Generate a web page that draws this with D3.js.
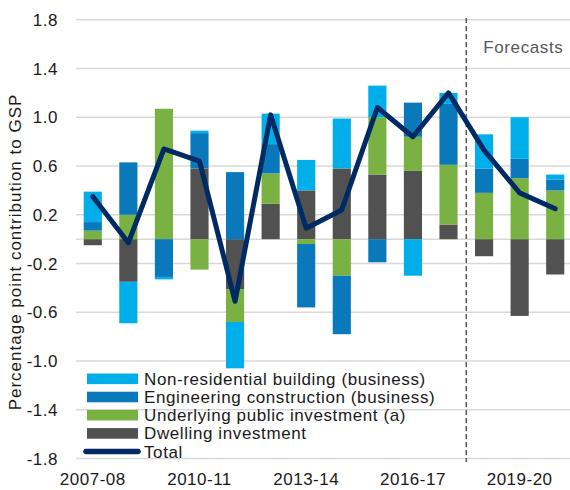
<!DOCTYPE html>
<html>
<head>
<meta charset="utf-8">
<script src="https://cdn.jsdelivr.net/npm/d3@7/dist/d3.min.js"></script>
<style>
  html, body { margin: 0; padding: 0; background: #fff; }
  svg { display: block; font-family: "Liberation Sans", Arial, sans-serif; }
  .grid { stroke: #d9d9d9; stroke-width: 1.5; }
  .tick-label { font-size: 17px; fill: #1a1a1a; letter-spacing: 0.5px; }
  .axis-title { font-size: 17px; fill: #1a1a1a; letter-spacing: 1px; }
  .legend-label { font-size: 17px; fill: #1a1a1a; letter-spacing: 0.6px; }
</style>
</head>
<body>
<div id="chart"></div>
<script>
// Contribution to GSP growth by component (percentage points), 2007-08 to 2020-21.
var years = ["2007-08", "2008-09", "2009-10", "2010-11", "2011-12", "2012-13", "2013-14",
             "2014-15", "2015-16", "2016-17", "2017-18", "2018-19", "2019-20", "2020-21"];
var xTickLabels = ["2007-08", "2010-11", "2013-14", "2016-17", "2019-20"];
var yTicks = [-1.8, -1.4, -1.0, -0.6, -0.2, 0.2, 0.6, 1.0, 1.4, 1.8];

var dwelling    = [-0.05, -0.35, 0.00, 0.58, -0.41, 0.29, 0.40, 0.58, 0.53, 0.56, 0.12, -0.14, -0.63, -0.29];
var publicInv   = [0.07, 0.20, 1.07, -0.25, -0.27, 0.25, -0.04, -0.30, 0.47, 0.28, 0.49, 0.38, 0.50, 0.40];
var engineering = [0.07, 0.43, -0.31, 0.29, 0.55, 0.24, -0.52, -0.48, -0.19, 0.28, 0.50, 0.20, 0.16, 0.09];
var nonRes      = [0.25, -0.34, -0.02, 0.02, -0.38, 0.25, 0.25, 0.41, 0.26, -0.30, 0.09, 0.28, 0.34, 0.04];
var total       = [0.35, -0.03, 0.74, 0.64, -0.51, 1.02, 0.09, 0.24, 1.08, 0.84, 1.20, 0.73, 0.38, 0.25];

var forecastFrom = "2018-19";

var W = 570, H = 490;
var svg = d3.select("#chart").append("svg").attr("width", W).attr("height", H);

// stacking order from zero outwards: dwelling, public, engineering, non-res
var series = [
  { key: "dwelling", name: "Dwelling investment", color: "#515151", vals: dwelling },
  { key: "publicInv", name: "Underlying public investment (a)", color: "#79b243", vals: publicInv },
  { key: "engineering", name: "Engineering construction (business)", color: "#0a79bb", vals: engineering },
  { key: "nonRes", name: "Non-residential building (business)", color: "#00aeea", vals: nonRes }
];
var rows = years.map(function (y, i) {
  var r = { year: y };
  series.forEach(function (s) { r[s.key] = s.vals[i]; });
  return r;
});
var stacked = d3.stack().keys(series.map(function (s) { return s.key; }))
  .offset(d3.stackOffsetDiverging)(rows);

var x = d3.scaleBand().domain(years).range([75, 573]).paddingInner(0.49).paddingOuter(0.245);
var y = d3.scaleLinear().domain([-1.8, 1.8]).range([458.5, 19.8]);
var fmt = function (v) { return d3.format(".1f")(v).replace("\u2212", "-"); };

// gridlines + zero line
svg.append("g").selectAll("line").data(yTicks.concat([0])).join("line")
  .attr("class", "grid")
  .attr("x1", 76).attr("x2", 570)
  .attr("y1", function (d) { return y(d); }).attr("y2", function (d) { return y(d); });

svg.append("g").selectAll("text").data(yTicks).join("text")
  .attr("class", "tick-label")
  .attr("x", 58).attr("y", function (d) { return y(d) + 6; })
  .attr("text-anchor", "end")
  .text(fmt);

svg.append("text")
  .attr("class", "axis-title")
  .attr("transform", "translate(21," + 252 + ") rotate(-90)")
  .attr("text-anchor", "middle")
  .text("Percentage point contribution to GSP");

// bars
svg.append("g").selectAll("g").data(stacked).join("g")
  .attr("fill", function (d, i) { return series[i].color; })
  .selectAll("rect").data(function (d) { return d; }).join("rect")
  .attr("x", function (d) { return x(d.data.year); })
  .attr("width", x.bandwidth())
  .attr("y", function (d) { return y(Math.max(d[0], d[1])); })
  .attr("height", function (d) { return Math.abs(y(d[0]) - y(d[1])); });

// forecast divider
var fx = x(forecastFrom) - (x.step() - x.bandwidth()) / 2;
svg.append("line")
  .attr("x1", fx).attr("x2", fx).attr("y1", 18).attr("y2", 462)
  .attr("stroke", "#595959").attr("stroke-width", 1.5).attr("stroke-dasharray", "5,3");
svg.append("text")
  .attr("x", fx + 17).attr("y", 52.5)
  .attr("font-size", "17px").attr("letter-spacing", "0.6px").attr("fill", "#595959")
  .text("Forecasts");

// total line
var line = d3.line()
  .x(function (d, i) { return x(years[i]) + x.bandwidth() / 2; })
  .y(function (d) { return y(d); });
svg.append("path").datum(total)
  .attr("d", line)
  .attr("fill", "none").attr("stroke", "#002a64").attr("stroke-width", 5)
  .attr("stroke-linejoin", "round").attr("stroke-linecap", "round");

// x labels
svg.append("g").selectAll("text").data(xTickLabels).join("text")
  .attr("class", "tick-label")
  .attr("x", function (d) { return x(d) + x.bandwidth() / 2; })
  .attr("y", 485)
  .attr("text-anchor", "middle")
  .text(function (d) { return d; });

// legend
var legendItems = series.slice().reverse().map(function (s) { return { name: s.name, color: s.color, kind: "bar" }; });
legendItems.push({ name: "Total", color: "#002a64", kind: "line" });
var lg = svg.append("g").selectAll("g").data(legendItems).join("g")
  .attr("transform", function (d, i) { return "translate(0," + (378.8 + i * 18.2) + ")"; });
lg.each(function (d) {
  var g = d3.select(this);
  if (d.kind === "bar") {
    g.append("rect").attr("x", 87).attr("y", -5.3).attr("width", 51).attr("height", 10.6).attr("fill", d.color);
  } else {
    g.append("line").attr("x1", 86).attr("x2", 138).attr("y1", 0).attr("y2", 0)
      .attr("stroke", d.color).attr("stroke-width", 5.5).attr("stroke-linecap", "round");
  }
  g.append("text").attr("class", "legend-label").attr("x", 144).attr("y", 6).text(d.name);
});
</script>
</body>
</html>
